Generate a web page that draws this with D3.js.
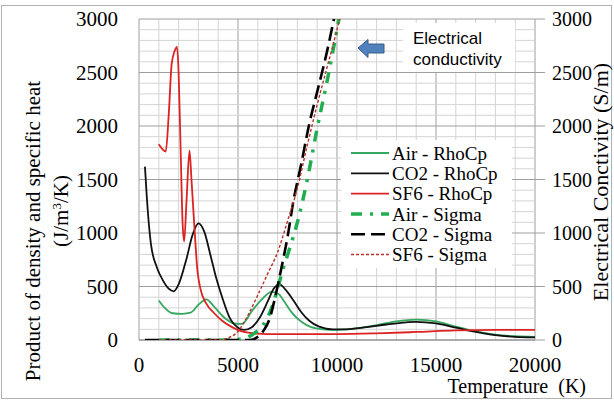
<!DOCTYPE html>
<html>
<head>
<meta charset="utf-8">
<script src="https://cdn.jsdelivr.net/npm/d3@7"></script>
<style>
  body { margin: 0; background: #fff; }
  svg { display: block; }
</style>
</head>
<body>
<div id="chart"></div>
<script>
// Thermal plasma properties vs temperature

// [temperature K, value]
const airRhoCp = [[1000,370],[1300,300],[1700,250],[2200,245],[2600,255],[3000,330],[3400,380],[3800,310],[4300,210],[4800,155],[5200,150],[5700,270],[6200,380],[6700,450],[7050,430],[7300,370],[7700,260],[8200,170],[8700,120],[9300,100],[10000,95],[11000,110],[12000,140],[13000,175],[14000,190],[15000,175],[16000,125],[17000,80],[18000,50],[19000,35],[20000,30]];
const co2RhoCp = [[300,1620],[400,1320],[600,900],[900,680],[1200,560],[1500,480],[1750,455],[2000,520],[2400,760],[2700,980],[3000,1090],[3300,1010],[3600,800],[3900,580],[4200,400],[4600,200],[5000,115],[5300,95],[5700,120],[6100,210],[6500,360],[6800,480],[7100,520],[7400,470],[7800,370],[8200,260],[8600,180],[9100,125],[9800,100],[10500,100],[11500,120],[12500,145],[13500,165],[14000,170],[15000,155],[16000,115],[17000,75],[18000,45],[19000,30],[20000,25]];
const sf6RhoCp = [[1000,1830],[1200,1780],[1350,1760],[1500,2100],[1650,2580],[1800,2700],[1920,2740],[2000,2500],[2100,1800],[2200,1100],[2280,920],[2400,1300],[2550,1770],[2650,1500],[2800,1050],[2950,650],[3100,480],[3400,340],[3800,250],[4200,180],[4700,120],[5200,80],[6000,60],[7000,55],[8000,55],[10000,55],[12000,62],[14000,75],[16000,90],[18000,95],[20000,95]];
const airSigma = [[1000,0],[4500,0],[5200,10],[5800,60],[6300,150],[6700,300],[7000,480],[7300,680],[7600,850],[8000,1100],[8500,1500],[9000,1980],[9500,2420],[10000,2900],[10150,3050]];
const co2Sigma = [[300,0],[5600,0],[6000,30],[6300,90],[6600,200],[6900,420],[7200,680],[7500,960],[7800,1300],[8200,1650],[8600,2020],[9000,2320],[9500,2700],[9900,3050]];
const sf6Sigma = [[1000,0],[4000,0],[4500,20],[5000,80],[5500,230],[6000,420],[6500,620],[7000,820],[7500,1110],[8000,1420],[8500,1820],[9000,2200],[9500,2550],[10000,2900],[10200,3050]];

const xTicks = [0, 5000, 10000, 15000, 20000];
const yTicks = [0, 500, 1000, 1500, 2000, 2500, 3000];

const series = [
    { name: "Air - RhoCp", data: airRhoCp, color: "#35a75e", width: 1.8, dash: null },
    { name: "CO2 - RhoCp", data: co2RhoCp, color: "#111", width: 1.8, dash: null },
    { name: "SF6 - RhoCp", data: sf6RhoCp, color: "#dd2222", width: 1.8, dash: null },
    { name: "Air - Sigma", data: airSigma, color: "#1fae50", width: 3.5, dash: "11,8,3,8" },
    { name: "CO2 - Sigma", data: co2Sigma, color: "#000", width: 2.6, dash: "14,6" },
    { name: "SF6 - Sigma", data: sf6Sigma, color: "#b83228", width: 1.4, dash: "3,2" }
];

const width = 614;
const height = 401;
const margin = { top: 19, right: 79, bottom: 61, left: 139 };
const serif = "'Liberation Serif', 'Times New Roman', serif";

const svg = d3.select("#chart")
    .append("svg")
    .attr("width", width)
    .attr("height", height);

// outer frame
svg.append("rect")
    .attr("x", 1.5).attr("y", 5.5)
    .attr("width", width - 4).attr("height", height - 8)
    .attr("fill", "none")
    .attr("stroke", "#b0b0b0");

const x = d3.scaleLinear()
    .domain([0, 20000])
    .range([margin.left, width - margin.right]);

const y = d3.scaleLinear()
    .domain([0, 3000])
    .range([height - margin.bottom, margin.top]);

// grid
const grid = svg.append("g");
grid.selectAll("line.vx")
    .data(d3.range(0, 20001, 1000))
    .join("line")
    .attr("x1", d => x(d)).attr("x2", d => x(d))
    .attr("y1", y(0)).attr("y2", y(3000))
    .attr("stroke", d => d % 5000 === 0 ? "#9e9e9e" : "#d4d4d4")
    .attr("stroke-width", 1);

grid.selectAll("line.hy")
    .data(d3.range(0, 3001, 100))
    .join("line")
    .attr("x1", x(0)).attr("x2", x(20000))
    .attr("y1", d => y(d)).attr("y2", d => y(d))
    .attr("stroke", d => d % 500 === 0 ? "#9e9e9e" : "#d4d4d4")
    .attr("stroke-width", 1);

// right axis ticks
grid.selectAll("line.rt")
    .data(yTicks)
    .join("line")
    .attr("x1", x(20000)).attr("x2", x(20000) + 10)
    .attr("y1", d => y(d)).attr("y2", d => y(d))
    .attr("stroke", "#9e9e9e");

// white boxes that hide the grid
svg.append("rect")
    .attr("x", 341).attr("y", 140)
    .attr("width", 171).attr("height", 128)
    .attr("fill", "#fff");

svg.append("rect")
    .attr("x", 403).attr("y", 23)
    .attr("width", 112).attr("height", 49)
    .attr("fill", "#fff");

// axis lines
svg.append("line")
    .attr("x1", x(0)).attr("x2", x(20000))
    .attr("y1", y(0)).attr("y2", y(0))
    .attr("stroke", "#8a8a8a");

// clip for curves
svg.append("clipPath")
    .attr("id", "plotClip")
    .append("rect")
    .attr("x", x(0)).attr("y", y(3000))
    .attr("width", x(20000) - x(0))
    .attr("height", y(0) - y(3000));

const line = d3.line()
    .x(d => x(d[0]))
    .y(d => y(d[1]))
    .curve(d3.curveMonotoneX);

svg.append("g")
    .attr("clip-path", "url(#plotClip)")
    .selectAll("path")
    .data(series)
    .join("path")
    .attr("fill", "none")
    .attr("stroke", d => d.color)
    .attr("stroke-width", d => d.width)
    .attr("stroke-dasharray", d => d.dash)
    .attr("d", d => line(d.data));

// tick labels
svg.append("g")
    .selectAll("text")
    .data(yTicks)
    .join("text")
    .attr("x", 118)
    .attr("y", d => y(d))
    .attr("dy", "0.35em")
    .attr("text-anchor", "end")
    .attr("font-family", serif)
    .attr("font-size", "21px")
    .text(d => d);

svg.append("g")
    .selectAll("text")
    .data(yTicks)
    .join("text")
    .attr("x", 552)
    .attr("y", d => y(d))
    .attr("dy", "0.35em")
    .attr("text-anchor", "start")
    .attr("font-family", serif)
    .attr("font-size", "20px")
    .text(d => d);

svg.append("g")
    .selectAll("text")
    .data(xTicks)
    .join("text")
    .attr("x", d => x(d))
    .attr("y", 365)
    .attr("dy", "0.35em")
    .attr("text-anchor", "middle")
    .attr("font-family", serif)
    .attr("font-size", "21px")
    .text(d => d);

// axis titles
svg.append("text")
    .attr("x", 586)
    .attr("y", 393)
    .attr("text-anchor", "end")
    .attr("font-family", serif)
    .attr("font-size", "20px")
    .attr("xml:space", "preserve")
    .text("Temperature  (K)");

const leftTitle = svg.append("text")
    .attr("transform", "translate(40,231) rotate(-90)")
    .attr("text-anchor", "middle")
    .attr("font-family", serif)
    .attr("font-size", "21px");
leftTitle.append("tspan")
    .attr("x", 0).attr("y", 0)
    .text("Product of density and specific heat");
const unit = leftTitle.append("tspan")
    .attr("x", 20).attr("dy", 28);
unit.append("tspan").text("(J/m");
unit.append("tspan").attr("font-size", "13px").attr("dy", -7).text("3");
unit.append("tspan").attr("dy", 7).text("/K)");

svg.append("text")
    .attr("transform", "translate(608,182) rotate(-90)")
    .attr("text-anchor", "middle")
    .attr("font-family", serif)
    .attr("font-size", "22px")
    .text("Electrical Conctivity (S/m)");

// legend
const legend = svg.append("g")
    .selectAll("g")
    .data(series)
    .join("g")
    .attr("transform", (d, i) => `translate(0,${153 + i * 20.3})`);

legend.append("line")
    .attr("x1", 351).attr("x2", 389)
    .attr("stroke", d => d.color)
    .attr("stroke-width", d => d.width)
    .attr("stroke-dasharray", d => d.dash);

legend.append("text")
    .attr("x", 392)
    .attr("dy", "0.35em")
    .attr("font-family", serif)
    .attr("font-size", "19px")
    .text(d => d.name);

// annotation: arrow + label
svg.append("path")
    .attr("d", "M358,48 L368,39.5 L368,44 L384,44 L384,53 L368,53 L368,57.5 Z")
    .attr("fill", "#4f81bd")
    .attr("stroke", "#385d8a")
    .attr("stroke-width", 1);

svg.append("text")
    .attr("x", 413).attr("y", 44)
    .attr("font-family", "'Liberation Sans', Arial, sans-serif")
    .attr("font-size", "17px")
    .text("Electrical");

svg.append("text")
    .attr("x", 413).attr("y", 65)
    .attr("font-family", "'Liberation Sans', Arial, sans-serif")
    .attr("font-size", "17px")
    .text("conductivity");
</script>
</body>
</html>
